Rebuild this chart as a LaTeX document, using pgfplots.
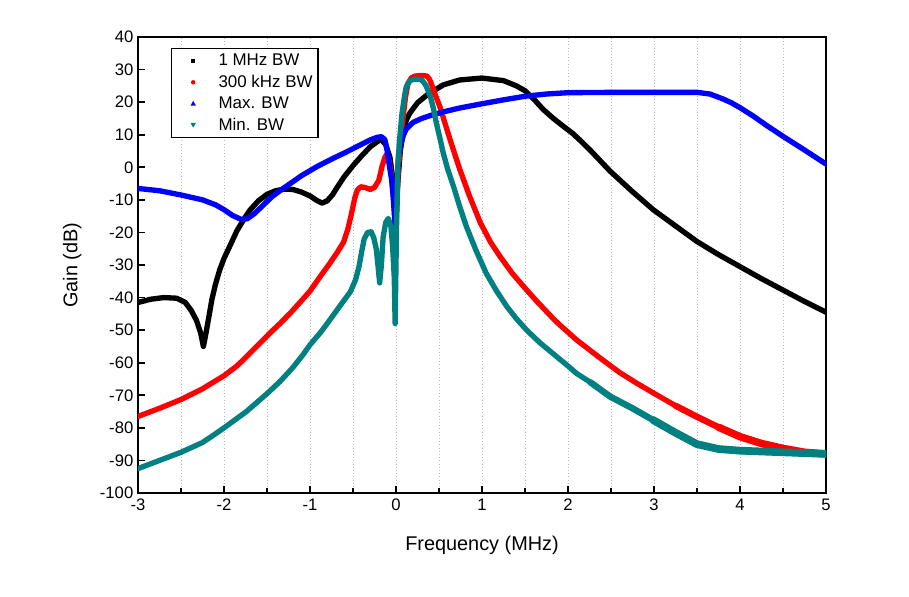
\documentclass[border=0pt]{standalone}
\usepackage{fontspec}
\setmainfont{Liberation Sans}
\usepackage{pgfplots}
\pgfplotsset{compat=1.18}
\definecolor{tealc}{RGB}{0,128,128}
\begin{document}
\begin{tikzpicture}
\begin{axis}[
  scale only axis, width=516pt, height=342pt,
  xmin=-3, xmax=5, ymin=-100, ymax=40,
  xtick={-3,-2,...,5}, ytick={-100,-90,...,40},
  minor xtick={-2.5,-1.5,...,4.5},
  xtick pos=bottom, ytick pos=left, tick align=inside,
  major tick length=5.5pt, minor tick length=3.5pt,
  every tick/.style={black, line width=1.2pt},
  axis line style={line width=1.3pt},
  xmajorgrids, xminorgrids,
  major grid style={gray!55, dotted, line width=0.6pt},
  minor grid style={gray!55, dotted, line width=0.6pt},
  /pgf/number format/assume math mode=true,
  ticklabel style={font=\fontsize{12.5}{14}\selectfont},
  xticklabel style={yshift=-1pt},
  xlabel={Frequency (MHz)}, ylabel={Gain (dB)},
  label style={font=\fontsize{14.9}{17}\selectfont},
  xlabel style={yshift=-12pt}, ylabel style={yshift=7pt},
  legend style={at={(rel axis cs:0,1)}, anchor=north west, xshift=25pt, yshift=-8.5pt,
    draw=black, line width=0.8pt, font=\fontsize{12.7}{15.5}\selectfont,
    row sep=1.5pt, inner xsep=2pt, inner ysep=2pt},
  legend cell align=left,
  every axis plot/.append style={line width=4pt, line join=round, line cap=round},
]
\addplot[black, forget plot] coordinates {
(-3,-41.5)(-2.85,-40.5)(-2.7,-40)(-2.55,-40.2)(-2.45,-41.5)(-2.38,-44)(-2.32,-47)(-2.27,-51)(-2.24,-55)
(-2.21,-51)(-2.18,-46.5)(-2.14,-40.5)(-2.10,-36)(-2.05,-31.5)(-2.0,-28)(-1.92,-23.5)(-1.85,-19.5)
(-1.77,-16)(-1.70,-13.2)(-1.6,-10.3)(-1.5,-8.3)(-1.4,-7.2)(-1.3,-6.7)(-1.2,-6.8)(-1.1,-7.6)(-1.0,-8.8)
(-0.92,-10.2)(-0.86,-11)(-0.80,-10.3)(-0.74,-8.5)(-0.68,-6)(-0.6,-2.8)(-0.5,0.5)(-0.4,3.5)(-0.3,6.3)
(-0.22,7.8)(-0.18,8.7)(-0.12,7)(-0.07,3)(-0.03,-5)(0,-18)(0.02,-5)(0.05,5)(0.085,11)(0.12,14.5)
(0.16,16.6)(0.25,19.8)(0.36,22.2)(0.55,25.3)(0.74,26.8)(1.0,27.4)(1.25,26.6)(1.4,25)(1.5,23.5)
(1.6,21)(1.71,17.8)(1.83,15)(1.95,12.5)(2.05,10.5)(2.14,8.3)(2.26,5.2)(2.49,-1.2)(2.75,-7.5)(2.99,-13)(3.25,-18)
(3.5,-22.8)(3.75,-26.8)(4.0,-30.5)(4.25,-34.2)(4.5,-37.7)(4.75,-41.2)(5.0,-44.5)};
\addplot[red, forget plot] coordinates {
(-3,-76.5)(-2.75,-74)(-2.5,-71.3)(-2.25,-68)(-2.0,-64)(-1.85,-61)(-1.74,-58.2)(-1.6,-54.5)(-1.47,-51)
(-1.35,-48)(-1.23,-44.8)(-1.1,-41)(-1.0,-38)(-0.88,-33.5)(-0.77,-29.5)(-0.68,-26)(-0.61,-23)(-0.56,-19)
(-0.52,-14.5)(-0.48,-9.5)(-0.45,-7)(-0.41,-6)(-0.36,-6.2)(-0.3,-6.8)(-0.25,-6.2)(-0.2,-4)(-0.16,0.5)
(-0.13,3)(-0.11,4)(-0.08,2)(-0.05,-3)(-0.03,-9)(-0.01,-17)(0.01,-10)(0.03,1)(0.06,9)(0.085,16)
(0.11,21.5)(0.14,25.8)(0.18,27.5)(0.22,28)(0.3,28.2)(0.36,28)(0.39,27)(0.42,25)(0.46,22)(0.51,18.6)
(0.57,13.5)(0.63,8.4)(0.69,3.5)(0.74,-0.5)(0.85,-8.5)(0.98,-17)(1.1,-23)(1.21,-27.4)(1.35,-32.5)
(1.52,-37.7)(1.65,-41.5)(1.83,-46.5)(1.9,-48.3)(2.1,-53)(2.37,-58.5)(2.6,-63)(2.8,-66.3)(3.0,-69.4)
(3.25,-73.2)(3.5,-76.6)(3.75,-79.8)(4.0,-82.7)(4.25,-84.8)(4.5,-86.3)(4.75,-87.5)(5.0,-88)};
\addplot[red, forget plot, line width=4.8pt] coordinates {
(3.25,-73.2)(3.5,-76.6)(3.75,-79.8)(4.0,-82.7)(4.25,-84.8)(4.5,-86.3)(4.75,-87.5)(5.0,-88)};
\addplot[red, forget plot, line width=5.6pt] coordinates {
(3.75,-79.8)(4.0,-82.7)(4.25,-84.8)(4.5,-86.3)(4.75,-87.5)(5.0,-88)};
\addplot[blue, forget plot] coordinates {
(-3,-6.5)(-2.75,-7.2)(-2.5,-8.5)(-2.25,-10)(-2.1,-11.5)(-2.0,-13)(-1.9,-14.8)(-1.8,-16)(-1.73,-15.8)
(-1.65,-14.3)(-1.55,-11.8)(-1.45,-9.2)(-1.35,-7.2)(-1.23,-5)(-1.1,-2.6)(-0.92,0.2)(-0.75,2.5)(-0.6,4.4)
(-0.45,6.4)(-0.3,8.4)(-0.22,9.2)(-0.17,9.4)(-0.13,8.5)(-0.105,5.5)(-0.08,1)(-0.05,-4)(-0.03,-10)
(-0.01,-18)(0.01,-8)(0.03,3.8)(0.06,7.5)(0.085,9.8)(0.12,11.8)(0.2,13.8)(0.3,15)(0.4,15.9)(0.55,17)
(0.74,18.2)(1.0,19.5)(1.25,20.7)(1.5,21.8)(1.75,22.5)(2.0,22.9)(2.5,23)(3.0,23)(3.5,23)(3.65,22.5)
(3.8,21)(3.9,19.8)(4.0,18.3)(4.15,15.8)(4.3,13)(4.5,9.5)(4.75,5.3)(5.0,1)};
\addplot[tealc, forget plot] coordinates {
(-3,-92.5)(-2.75,-90)(-2.5,-87.5)(-2.25,-84.5)(-2.12,-82.2)(-2.0,-80)(-1.74,-75)(-1.5,-69.5)
(-1.35,-65.8)(-1.2,-61.5)(-1.08,-57.5)(-1.0,-54.5)(-0.88,-50.8)(-0.77,-46.9)(-0.65,-42.5)(-0.53,-38.2)
(-0.47,-34.5)(-0.43,-30.5)(-0.40,-26)(-0.37,-22)(-0.33,-20)(-0.29,-19.8)(-0.26,-21.5)(-0.23,-25)
(-0.21,-30)(-0.19,-35.5)(-0.17,-30)(-0.15,-21.5)(-0.12,-17)(-0.09,-15.7)(-0.06,-18)(-0.04,-24)
(-0.02,-34)(-0.01,-48)(0.005,-20)(0.02,0)(0.04,8)(0.07,16.6)(0.1,22)(0.12,24.8)(0.16,26.5)(0.2,27)
(0.28,27)(0.31,26.5)(0.35,25)(0.40,21.7)(0.44,17.5)(0.47,13.5)(0.51,9)(0.55,4.3)(0.6,-0.5)(0.67,-6)
(0.74,-12)(0.82,-18.3)(0.93,-25.5)(1.05,-32.6)(1.17,-38)(1.29,-42.8)(1.4,-46.5)(1.52,-50)(1.67,-53.8)
(1.83,-57.3)(2.0,-61)(2.1,-63.3)(2.26,-66)(2.49,-70.4)(2.75,-74)(2.99,-77.6)(3.25,-81.5)(3.5,-85)
(3.75,-86.5)(4.0,-87)(4.5,-87.5)(5.0,-88)};
\addplot[tealc, forget plot, line width=4.8pt] coordinates {
(2.26,-66)(2.49,-70.4)(2.75,-74)(2.99,-77.6)(3.25,-81.5)(3.5,-85)(3.75,-86.5)(4.0,-87)(4.5,-87.5)(5.0,-88)};
\addplot[tealc, forget plot, line width=5.8pt] coordinates {
(2.99,-77.6)(3.25,-81.5)(3.5,-85)(3.75,-86.5)(4.0,-87)(4.5,-87.5)(5.0,-88)};
\addlegendimage{legend image code/.code={\path[draw=none,fill=none] (0pt,0pt) -- (31pt,0pt);
  \fill[black, draw=none] (14pt,0pt) ++(-1.6pt,-1.6pt) rectangle ++(3.2pt,3.2pt);}}
\addlegendentry{1 MHz BW}
\addlegendimage{legend image code/.code={\path[draw=none,fill=none] (0pt,0pt) -- (31pt,0pt);
  \fill[red, draw=none] (14pt,0pt) circle (1.7pt);}}
\addlegendentry{300 kHz BW}
\addlegendimage{legend image code/.code={\path[draw=none,fill=none] (0pt,0pt) -- (31pt,0pt);
  \fill[blue, draw=none] (14pt,0pt) ++(0pt,2.1pt) -- ++(-2pt,-3.6pt) -- ++(4pt,0pt) -- cycle;}}
\addlegendentry{Max. BW}
\addlegendimage{legend image code/.code={\path[draw=none,fill=none] (0pt,0pt) -- (31pt,0pt);
  \fill[tealc, draw=none] (14pt,0pt) ++(0pt,-2.1pt) -- ++(-2pt,3.6pt) -- ++(4pt,0pt) -- cycle;}}
\addlegendentry{Min. BW}
\end{axis}
\path ([shift={(-103.5pt,-77.25pt)}]current axis.south west) rectangle ([shift={(62.25pt,27.75pt)}]current axis.north east);
\end{tikzpicture}
\end{document}
